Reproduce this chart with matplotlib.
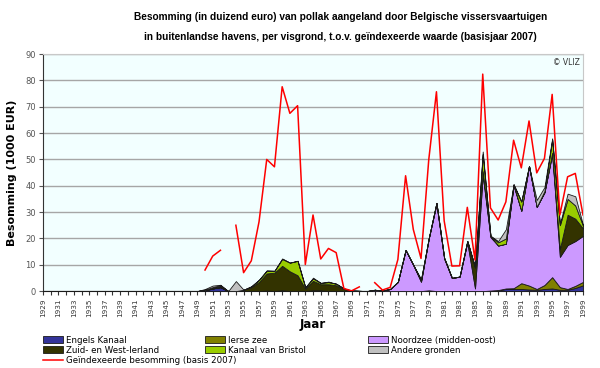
import matplotlib.pyplot as plt
from matplotlib.patches import Patch
from matplotlib.lines import Line2D
import numpy as np

years = list(range(1929, 2000))

# besomming per visgrond (1000 EUR), alleen jaren met waarde
engels_kanaal = {1950: 0.3, 1951: 1.0, 1952: 1.5, 1958: 0.2, 1960: 0.3,
                 1987: 0.2, 1988: 0.3, 1989: 0.8, 1990: 0.8, 1991: 0.8, 1992: 0.6,
                 1993: 0.5, 1994: 0.8, 1995: 1.0, 1996: 0.5, 1997: 0.5, 1998: 1.2, 1999: 2.2}
ierse_zee = {1964: 0.3, 1965: 0.3, 1979: 0.3, 1988: 0.1, 1989: 0.2, 1990: 0.3, 1991: 2.2,
             1992: 1.5, 1993: 0.3, 1994: 1.5, 1995: 4.3, 1996: 1.0, 1997: 0.3, 1998: 0.8, 1999: 1.3}
noordzee = {1972: 0.5, 1973: 0.2, 1974: 0.8, 1975: 3.5, 1976: 15.6, 1977: 9.9, 1978: 3.5,
            1979: 19.7, 1980: 33.0, 1981: 12.3, 1982: 5.0, 1983: 5.5, 1984: 18.5, 1985: 1.0,
            1986: 44.0, 1987: 20.3, 1988: 16.9, 1989: 17.0, 1990: 38.9, 1991: 27.5, 1992: 45.4,
            1993: 31.2, 1994: 35.2, 1995: 46.7, 1996: 11.5, 1997: 16.7, 1998: 17.0, 1999: 17.5}
zuid_west_ierland = {1950: 0.2, 1951: 0.3, 1952: 0.4, 1955: 0.5, 1956: 1.5, 1957: 3.5, 1958: 6.5,
                     1959: 7.0, 1960: 9.3, 1961: 7.5, 1962: 6.0, 1963: 0.9, 1964: 3.6, 1965: 2.3,
                     1966: 2.6, 1967: 2.2, 1968: 0.8, 1969: 0.2, 1970: 0.1, 1978: 0.3, 1980: 0.5,
                     1981: 0.3, 1984: 0.5, 1985: 8.0, 1986: 1.5, 1987: 0.5, 1990: 0.5, 1995: 0.5,
                     1996: 3.0, 1997: 11.5, 1998: 8.5, 1999: 2.8}
kanaal_bristol = {1951: 0.2, 1952: 0.3, 1956: 0.3, 1957: 0.8, 1958: 1.0, 1959: 0.7, 1960: 2.6,
                  1961: 3.3, 1962: 5.5, 1963: 0.5, 1964: 0.9, 1965: 0.5, 1966: 0.8, 1967: 0.6,
                  1968: 0.2, 1978: 0.6, 1986: 6.5, 1988: 1.2, 1989: 2.0, 1991: 3.5, 1994: 0.5,
                  1995: 5.0, 1996: 9.0, 1997: 6.0, 1998: 5.0, 1999: 1.0}
andere_gronden = {1950: 0.3, 1951: 0.6, 1952: 0.2, 1954: 3.8, 1958: 0.2, 1960: 0.2, 1964: 0.3,
                  1966: 0.2, 1986: 1.0, 1988: 0.5, 1989: 3.5, 1993: 2.6, 1994: 1.5, 1995: 0.5,
                  1996: 0.5, 1997: 2.0, 1998: 3.5, 1999: 0.3}
# geindexeerde besomming (basis 2007)
geindexeerd = {1950: 8.0, 1951: 13.3, 1952: 15.5, 1954: 25.0, 1955: 7.0, 1956: 11.5, 1957: 26.3,
               1958: 50.0, 1959: 47.2, 1960: 77.6, 1961: 67.5, 1962: 70.4, 1963: 10.1, 1964: 28.9,
               1965: 12.2, 1966: 16.2, 1967: 14.6, 1968: 1.0, 1969: 0.1, 1970: 1.6, 1972: 3.2,
               1973: 0.4, 1974: 1.4, 1975: 12.0, 1976: 43.8, 1977: 23.4, 1978: 12.4, 1979: 49.8,
               1980: 75.7, 1981: 26.7, 1982: 9.5, 1983: 9.6, 1984: 31.8, 1985: 11.8, 1986: 82.4,
               1987: 31.6, 1988: 27.0, 1989: 33.9, 1990: 57.3, 1991: 46.8, 1992: 64.6, 1993: 44.9,
               1994: 50.4, 1995: 74.7, 1996: 28.9, 1997: 43.4, 1998: 44.7, 1999: 28.9}

series = [("Engels Kanaal", engels_kanaal, "#333399"),
          ("Ierse zee", ierse_zee, "#808000"),
          ("Noordzee (midden-oost)", noordzee, "#CC99FF"),
          ("Zuid- en West-Ierland", zuid_west_ierland, "#333300"),
          ("Kanaal van Bristol", kanaal_bristol, "#99CC00"),
          ("Andere gronden", andere_gronden, "#C0C0C0")]

fig = plt.figure(figsize=(6, 3.68), dpi=100)
ax = fig.add_axes([0.0717, 0.209, 0.9, 0.644])
ax.set_facecolor("#F2FFFF")

stack = [[d.get(y, 0.0) for y in years] for _, d, _ in series]
ax.stackplot(years, stack, colors=[c for _, _, c in series],
             edgecolor="#1a1a1a", linewidth=0.6, zorder=3)
red = [geindexeerd.get(y, np.nan) for y in years]
ax.plot(years, red, color="#FF0000", lw=1.1, zorder=4)

ax.set_xlim(1929, 1999)
ax.set_ylim(0, 90)
ax.set_yticks(range(0, 91, 10))
ax.yaxis.grid(True, color="#A6A6A6", lw=1.0, zorder=1)
ax.set_axisbelow(True)
ax.set_xticks(range(1929, 2000))
ax.set_xticklabels([str(y) if (y - 1929) % 2 == 0 else "" for y in years], rotation=90)
ax.tick_params(axis="x", labelsize=5.2, length=3, pad=2, colors="#333333")
ax.tick_params(axis="y", labelsize=6, length=3, pad=2, colors="#555555")
for s in ["top", "right"]:
    ax.spines[s].set_color("#C8C8C8")
for s in ["left", "bottom"]:
    ax.spines[s].set_color("#333333")

ax.set_ylabel("Besomming (1000 EUR)", fontsize=8, fontweight="bold", labelpad=6)
fig.text(0.522, 0.118, "Jaar", ha="center", va="center", fontsize=8.5, fontweight="bold")
title_font = ["Liberation Sans", "DejaVu Sans"]
fig.text(0.567, 0.953, "Besomming (in duizend euro) van pollak aangeland door Belgische vissersvaartuigen",
         ha="center", va="center", fontsize=7.3, fontweight="bold", family=title_font)
fig.text(0.567, 0.9, "in buitenlandse havens, per visgrond, t.o.v. geïndexeerde waarde (basisjaar 2007)",
         ha="center", va="center", fontsize=7.3, fontweight="bold", family=title_font)
ax.text(0.995, 0.985, "© VLIZ", transform=ax.transAxes, ha="right", va="top", fontsize=5.5, color="#333333")

# legenda in drie kolommen op vaste posities
names = [n for n, _, _ in series]
h = {n: Patch(facecolor=c, edgecolor="#1a1a1a", lw=0.6) for n, _, c in series}
line = Line2D([], [], color="#FF0000", lw=1.1)
columns = [([h[names[0]], h[names[3]], line],
            [names[0], names[3], "Geïndexeerde besomming (basis 2007)"], 0.072),
           ([h[names[1]], h[names[4]]], [names[1], names[4]], 0.342),
           ([h[names[2]], h[names[5]]], [names[2], names[5]], 0.614)]
for hs, ls, x0 in columns:
    fig.legend(hs, ls, loc="upper left", bbox_to_anchor=(x0, 0.088), frameon=False,
               fontsize=6.2, handlelength=2.3, handleheight=0.8, labelspacing=0.12,
               handletextpad=0.3, borderpad=0, borderaxespad=0)

fig.savefig("out.png", dpi=100)
